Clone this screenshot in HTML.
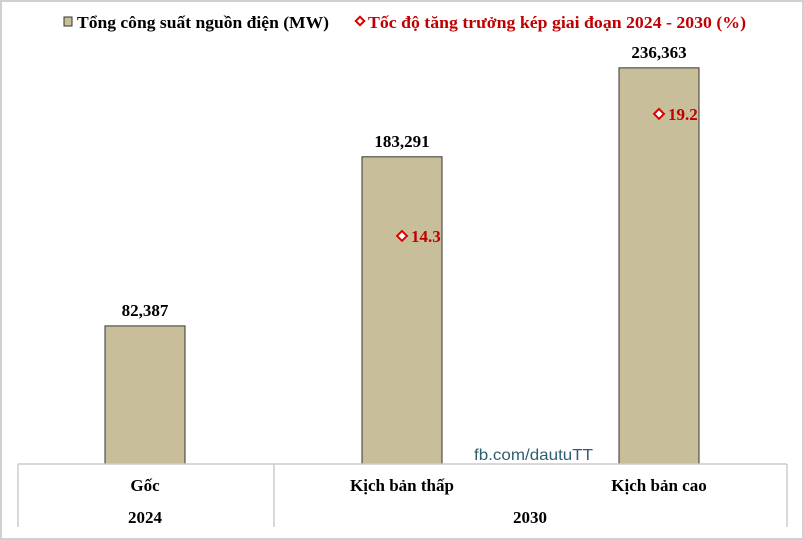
<!DOCTYPE html>
<html><head><meta charset="utf-8"><style>
html,body{margin:0;padding:0;background:#fff}
svg{display:block}
text{font-family:"Liberation Serif","Noto Serif CJK SC",serif;font-weight:bold}
</style></head><body>
<svg id="chart" width="804" height="540" viewBox="0 0 804 540">
<rect x="1" y="1" width="802" height="538" fill="#fff" stroke="#d0d0d0" stroke-width="2"/>
<g>
<rect x="64" y="17" width="8" height="9" fill="#c8bf9a" stroke="#333" stroke-width="1"/>
<text x="77" y="28" font-size="17" fill="#000" textLength="252" lengthAdjust="spacingAndGlyphs">Tổng công suất nguồn điện (MW)</text>
<rect x="357" y="18" width="6" height="6" fill="#fff" stroke="#d00" stroke-width="2" transform="rotate(45 360 21)"/>
<text x="368" y="28" font-size="17" fill="#c00000" textLength="378" lengthAdjust="spacingAndGlyphs">Tốc độ tăng trưởng kép giai đoạn 2024 - 2030 (%)</text>
</g>
<g id="bars"></g>
<g id="markers"></g>
<g stroke="#ccc" stroke-width="1.5" fill="none">
<line x1="18" y1="464" x2="787" y2="464"/>
<line x1="18" y1="464" x2="18" y2="527"/>
<line x1="274" y1="464" x2="274" y2="527"/>
<line x1="787" y1="464" x2="787" y2="527"/>
</g>
<text x="474" y="460" font-size="16" fill="#2f5f6f" style="font-family:'Liberation Sans',sans-serif;font-weight:normal" textLength="119" lengthAdjust="spacingAndGlyphs">fb.com/dautuTT</text>
<g id="cats"></g>
<text x="145" y="523" font-size="17" text-anchor="middle">2024</text>
<text x="530" y="523" font-size="17" text-anchor="middle">2030</text>
</svg>
<script>
const categories = ["Gốc", "Kịch bản thấp", "Kịch bản cao"];
const capacity = [82387, 183291, 236363];
const growth = [null, 14.3, 19.2];
const ns = "http://www.w3.org/2000/svg";
const centers = [145, 402, 659];
const baseY = 464;
function yCap(v){ return baseY - v * 0.001676; }
function yGrowth(v){ return 592 - v * 24.9; }
function fmt(v){ return v.toLocaleString("en-US"); }
const bars = document.getElementById("bars");
const markers = document.getElementById("markers");
const cats = document.getElementById("cats");
function mk(tag, attrs, parent){ const e = document.createElementNS(ns, tag); for (const k in attrs) e.setAttribute(k, attrs[k]); parent.appendChild(e); return e; }
capacity.forEach((v, i) => {
  const cx = centers[i];
  const r = mk("rect", {x: cx - 40, y: yCap(v), width: 80, height: baseY - yCap(v), fill: "#c8bf9a", stroke: "#333", "stroke-width": 1}, bars);
  
  
  const t = mk("text", {x: cx, y: yCap(v) - 10, "font-size": 17, "text-anchor": "middle", fill: "#000"}, bars);
  t.textContent = fmt(v);
  
  
  const c = mk("text", {x: cx, y: 491, "font-size": 17, "text-anchor": "middle", fill: "#000"}, cats);
  c.textContent = categories[i];
  
  
  if (growth[i] !== null) {
    const y = yGrowth(growth[i]);
    const mx = cx;
    const d = mk("rect", {x: mx - 3.5, y: y - 3.5, width: 7, height: 7, fill: "#fff", stroke: "#d00", "stroke-width": 2, transform: `rotate(45 ${mx} ${y})`}, markers);
    
    
    const gt = mk("text", {x: mx + 9, y: y + 6, "font-size": 17, fill: "#c00000"}, markers);
    gt.textContent = growth[i].toFixed(1);
    
    
  }
});
</script>
</body></html>
